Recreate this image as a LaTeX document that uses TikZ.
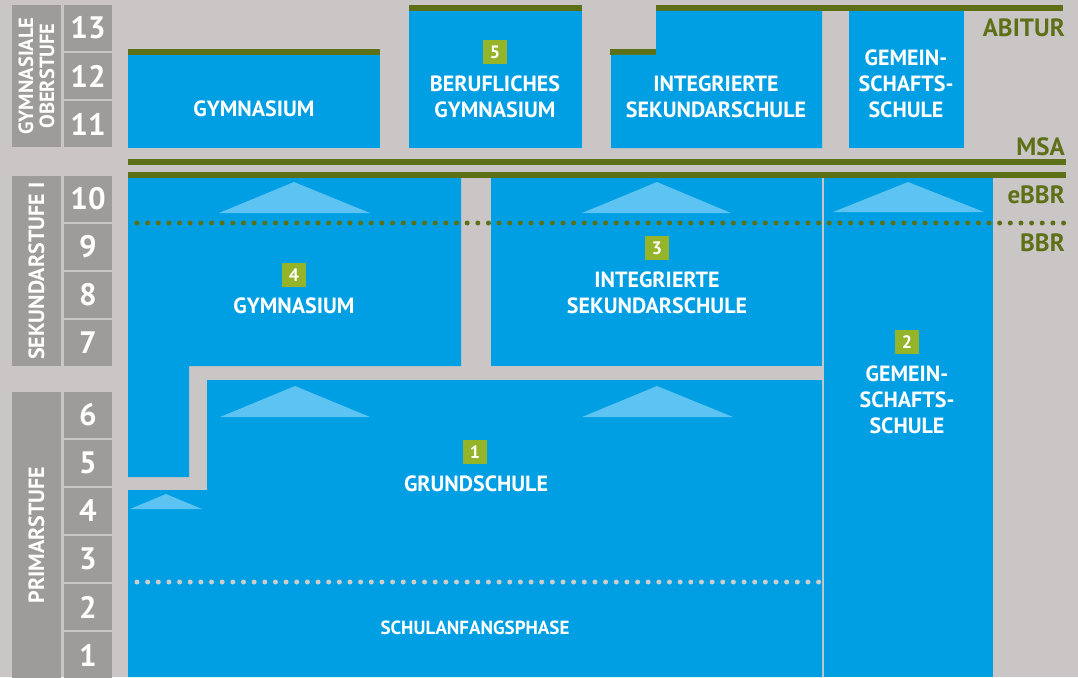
\documentclass[tikz,border=0pt]{standalone}
\usepackage{fontspec}
\setmainfont{PT Sans}
\definecolor{sblue}{HTML}{009FE3}
\definecolor{lblue}{HTML}{5CC3F2}
\definecolor{ogreen}{HTML}{5E7017}
\definecolor{badgegreen}{HTML}{95B42A}
\definecolor{boxgray}{HTML}{9D9C9A}
\definecolor{bggray}{HTML}{C9C6C5}
\definecolor{dotgray}{HTML}{CDCDCD}
\tikzset{
  blk/.style={fill=sblue},
  tri/.style={fill=lblue},
  gbar/.style={fill=ogreen},
  lbl/.style={text=white, align=center, inner sep=0pt, font=\bfseries\fontsize{22}{26}\selectfont},
  smalllbl/.style={text=white, inner sep=0pt, font=\bfseries\fontsize{19}{21}\selectfont},
  numbox/.style={fill=boxgray, text=white, minimum width=48pt, minimum height=46pt, inner sep=0pt, font=\bfseries\fontsize{31}{33}\selectfont},
  grpbox/.style={fill=boxgray, minimum width=49pt, inner sep=0pt},
  grptext/.style={text=white, rotate=90, align=center, inner sep=0pt, font=\bfseries\fontsize{22}{21}\selectfont},
  grptextsmall/.style={grptext, font=\bfseries\fontsize{20.5}{21}\selectfont},
  badge/.style={fill=badgegreen, text=white, minimum width=24pt, minimum height=24pt, inner sep=0pt, font=\bfseries\fontsize{18}{20}\selectfont},
  rlab/.style={text=ogreen, anchor=east, inner sep=0pt, font=\bfseries\fontsize{25}{27}\selectfont},
  gdots/.style={ogreen, line width=5pt, line cap=round, dash pattern=on 0pt off 10.65pt},
  ldots/.style={dotgray, line width=5pt, line cap=round, dash pattern=on 0pt off 10.65pt}
}
\begin{document}
\begin{tikzpicture}[x=1pt,y=-1pt]
\fill[bggray] (0,0) rectangle (1078,677);
\useasboundingbox (0,0) rectangle (1078,677);

% ---- left column: group boxes
\node[grpbox, minimum height=142pt] (g1) at (36.5,76) {};
\node[grptextsmall] (g1t) at (g1) {GYMNASIALE\\OBERSTUFE};
\node[grpbox, minimum height=190pt] (g2) at (36.5,271) {};
\node[grptext] (g2t) at (g2) {SEKUNDARSTUFE I};
\node[grpbox, minimum height=290pt] (g3) at (36.5,537) {};
\node[grptext] (g3t) at (36.5,535) {PRIMARSTUFE};

% ---- number boxes
\node[numbox] (n13) at (88,28) {13};
\node[numbox] (n12) at (88,76) {12};
\node[numbox] (n11) at (88,124) {11};
\node[numbox] (n10) at (88,199) {10};
\node[numbox] (n9) at (88,247) {9};
\node[numbox] (n8) at (88,295) {8};
\node[numbox] (n7) at (88,343) {7};
\node[numbox] (n6) at (88,415) {6};
\node[numbox] (n5) at (88,463) {5};
\node[numbox] (n4) at (88,511) {4};
\node[numbox] (n3) at (88,559) {3};
\node[numbox] (n2) at (88,607) {2};
\node[numbox] (n1) at (88,655) {1};

% ---- upper secondary blocks
\fill[gbar] (128,49) rectangle (380,55);
\fill[blk] (128,55) rectangle (380,148);
\fill[gbar] (409,5) rectangle (582,11);
\fill[blk] (409,11) rectangle (582,148);
\fill[gbar] (610,49) rectangle (656,55);
\fill[gbar] (656,5) rectangle (1063,11);
\fill[blk] (611,55) -- (656,55) -- (656,11) -- (822,11) -- (822,148) -- (611,148) -- cycle;
\fill[blk] (849,11) rectangle (964,148);

% ---- MSA bars
\fill[gbar] (128,159) rectangle (1066,165);
\fill[gbar] (128,172) rectangle (1066,178);

% ---- lower blocks
\fill[blk] (128,178) -- (461,178) -- (461,366) -- (189,366) -- (189,477) -- (128,477) -- cycle;
\fill[blk] (491,178) rectangle (822,366);
\fill[blk] (824,178) rectangle (993,677);
\fill[blk] (207,380) -- (822,380) -- (822,677) -- (128,677) -- (128,490) -- (207,490) -- cycle;

% ---- triangles
\fill[tri] (219,213) -- (294,182) -- (370,213) -- cycle;
\fill[tri] (582,213) -- (657,182) -- (731,213) -- cycle;
\fill[tri] (833,212) -- (908,182) -- (984,212) -- cycle;
\fill[tri] (220,417) -- (295,386) -- (370,417) -- cycle;
\fill[tri] (582,417) -- (657,386) -- (733,417) -- cycle;
\fill[tri] (130,509) -- (166,494) -- (202,509) -- cycle;

% ---- dotted lines
\draw[gdots] (137,223) -- (1066,223);
\draw[ldots] (137,582) -- (822,582);

% ---- labels upper
\node[lbl] (gymtop) at (254,109) {GYMNASIUM};
\node[badge] (b5) at (495,52) {5};
\node[lbl] (bg) at (495,97) {BERUFLICHES\\GYMNASIUM};
\node[lbl] (istop) at (716,97) {INTEGRIERTE\\SEKUNDARSCHULE};
\node[lbl] (gstop) at (906,84) {GEMEIN-\\SCHAFTS-\\SCHULE};

% ---- labels lower
\node[badge] (b4) at (294,275) {4};
\node[lbl] (gym) at (294,306) {GYMNASIUM};
\node[badge] (b3) at (657,248) {3};
\node[lbl] (iss) at (657,293) {INTEGRIERTE\\SEKUNDARSCHULE};
\node[badge] (b2) at (907,342) {2};
\node[lbl] (gs) at (907,400) {GEMEIN-\\SCHAFTS-\\SCHULE};
\node[badge] (b1) at (475,452) {1};
\node[lbl] (grs) at (476,484) {GRUNDSCHULE};
\node[smalllbl] (sap) at (475,628) {SCHULANFANGSPHASE};

% ---- right labels
\node[rlab] (abi) at (1065,28) {ABITUR};
\node[rlab] (msa) at (1065,147) {MSA};
\node[rlab] (ebbr) at (1065,195) {eBBR};
\node[rlab] (bbr) at (1065,243) {BBR};
\end{tikzpicture}
\end{document}
